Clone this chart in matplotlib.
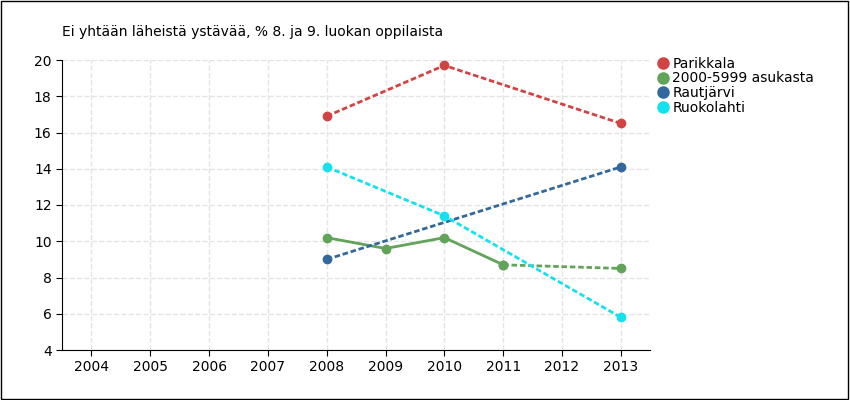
import matplotlib
matplotlib.use("Agg")
import matplotlib.pyplot as plt
from matplotlib.patches import Rectangle
from matplotlib.lines import Line2D

TITLE = "Ei yhtään läheistä ystävää, % 8. ja 9. luokan oppilaista"
YEARS = [2004, 2005, 2006, 2007, 2008, 2009, 2010, 2011, 2012, 2013]

parikkala_x = [2008, 2010, 2013]
parikkala_y = [16.9, 19.7, 16.5]
asukasta_x = [2008, 2009, 2010, 2011, 2013]
asukasta_y = [10.2, 9.6, 10.2, 8.7, 8.5]
rautjarvi_x = [2008, 2013]
rautjarvi_y = [9.0, 14.1]
ruokolahti_x = [2008, 2010, 2013]
ruokolahti_y = [14.1, 11.4, 5.8]

fig = plt.figure(figsize=(8.5, 4.0), dpi=100)
fig.patches.append(Rectangle((0.001, 0.002), 0.997, 0.995, transform=fig.transFigure,
                             fill=False, edgecolor="black", linewidth=1))
ax = fig.add_axes([0.073, 0.125, 0.692, 0.725])

red, green, blue, cyan = "#d24343", "#62a35a", "#32689c", "#14e1f0"

ax.plot(parikkala_x, parikkala_y, color=red, ls=(0, (2, 1)), lw=2, marker="o", ms=6)
# green: solid then dashed
ax.plot(asukasta_x[:4], asukasta_y[:4], color=green, lw=2, marker="o", ms=6)
ax.plot(asukasta_x[3:], asukasta_y[3:], color=green, ls=(0, (2, 1)), lw=2, marker="o", ms=6)
ax.plot(rautjarvi_x, rautjarvi_y, color=blue, ls=(0, (2, 1)), lw=2, marker="o", ms=6)
ax.plot(ruokolahti_x, ruokolahti_y, color=cyan, ls=(0, (2, 1)), lw=2, marker="o", ms=6)

ax.set_xlim(2003.5, 2013.5)
ax.set_ylim(4, 20)
ax.set_xticks(YEARS)
ax.set_yticks(range(4, 21, 2))
ax.tick_params(labelsize=10, length=4)
ax.grid(True, color="#e4e4e4", ls="--", lw=1)
ax.set_axisbelow(True)
for s in ["top", "right"]:
    ax.spines[s].set_visible(False)

fig.text(0.073, 0.91, TITLE, fontsize=10)
names = ["Parikkala", "2000-5999 asukasta", "Rautjärvi", "Ruokolahti"]
handles = [Line2D([], [], ls="none", marker="o", ms=8, color=c) for c in (red, green, blue, cyan)]
ax.legend(handles, names, loc="upper left", bbox_to_anchor=(1.0, 1.035), frameon=False, fontsize=10,
          handlelength=0.8, handletextpad=0.3, borderpad=0, labelspacing=0.05)
fig.savefig("out.png", dpi=100)
